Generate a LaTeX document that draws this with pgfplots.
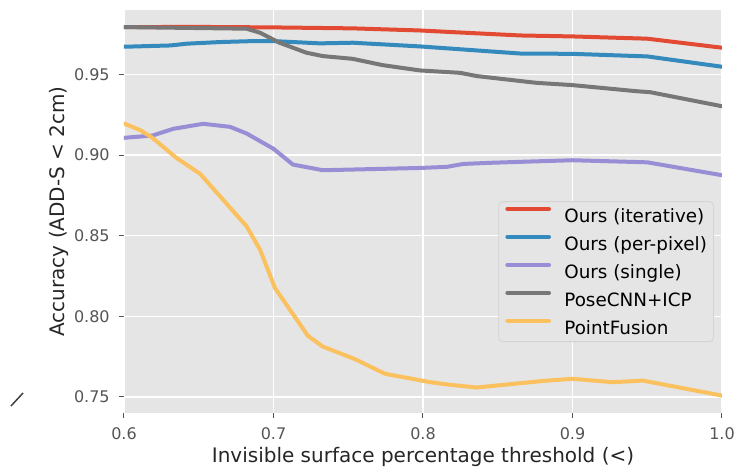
\documentclass[border=0pt]{standalone}
\usepackage{fontspec}
\setmainfont{DejaVu Sans}
\usepackage{pgfplots}
\pgfplotsset{compat=1.18}
\definecolor{ggbg}{HTML}{E5E5E5}
\definecolor{ggred}{HTML}{E24A33}
\definecolor{ggblue}{HTML}{348ABD}
\definecolor{ggpurple}{HTML}{988ED5}
\definecolor{gggray}{HTML}{777777}
\definecolor{ggyellow}{HTML}{FBC15E}
\definecolor{ticktext}{HTML}{555555}
\definecolor{labeltext}{HTML}{262626}
\definecolor{legedge}{HTML}{D4D4D4}
\begin{document}
\begin{tikzpicture}
\begin{axis}[
  at={(0pt,0pt)}, anchor=south west,
  scale only axis, width=358.8pt, height=241.8pt,
  xmin=0.6, xmax=1.0, ymin=0.740, ymax=0.990,
  axis background/.style={fill=ggbg},
  axis line style={draw=none},
  grid=major,
  major grid style={white, line width=0.9pt},
  xtick={0.6,0.7,0.8,0.9,1.0},
  xticklabels={0.6,0.7,0.8,0.9,1.0},
  ytick={0.75,0.80,0.85,0.90,0.95},
  yticklabels={0.75,0.80,0.85,0.90,0.95},
  xtick pos=bottom, ytick pos=left,
  tick align=outside,
  major tick length=3pt,
  tick style={color=ticktext, line width=0.6pt},
  ticklabel style={font=\fontsize{9.6}{11}\selectfont, text=ticktext, inner sep=0pt},
  xticklabel shift=5.4pt,
  yticklabel shift=5.4pt,
  xlabel={Invisible surface percentage threshold (<)},
  ylabel={Accuracy (ADD-S < 2cm)},
  label style={font=\fontsize{12}{14}\selectfont, text=labeltext, inner sep=0pt},
  xlabel style={at={(axis description cs:0.5,-0.1228)}, anchor=base},
  ylabel style={at={(axis description cs:-0.09866,0.5)}, anchor=base},
  every axis plot/.append style={line width=2.4pt, line join=round, line cap=round},
  legend image code/.code={\draw[#1] (0pt,4pt) -- (25pt,4pt); \path (33pt,4pt);},
  legend cell align=left,
  legend style={at={(axis description cs:0.9866,0.176)}, anchor=south east,
    fill=ggbg, draw=legedge, line width=0.5pt, rounded corners=2.5pt,
    font=\fontsize{11}{13}\selectfont, inner xsep=4pt, inner ysep=0pt, row sep=0pt,
    nodes={inner sep=0pt, text height=12.4pt, text depth=4.4pt}},
]
\addplot[color=ggred] coordinates {
(0.600,0.9794) (0.650,0.9795) (0.700,0.9792) (0.753,0.9786) (0.798,0.9773)
(0.830,0.9758) (0.865,0.9742) (0.900,0.9736) (0.950,0.9722) (1.000,0.9666)};
\addlegendentry{Ours (iterative)}
\addplot[color=ggblue] coordinates {
(0.600,0.9672) (0.631,0.9680) (0.642,0.9691) (0.664,0.9701) (0.686,0.9707)
(0.700,0.9707) (0.731,0.9693) (0.753,0.9697) (0.798,0.9674) (0.865,0.9630)
(0.900,0.9628) (0.950,0.9612) (1.000,0.9548)};
\addlegendentry{Ours (per-pixel)}
\addplot[color=ggpurple] coordinates {
(0.600,0.9107) (0.619,0.9121) (0.633,0.9163) (0.653,0.9194) (0.671,0.9175)
(0.682,0.9134) (0.700,0.9039) (0.713,0.8941) (0.733,0.8906) (0.798,0.8920)
(0.816,0.8927) (0.827,0.8945) (0.845,0.8952) (0.865,0.8958) (0.900,0.8968)
(0.950,0.8955) (1.000,0.8875)};
\addlegendentry{Ours (single)}
\addplot[color=gggray] coordinates {
(0.600,0.9794) (0.682,0.9784) (0.691,0.9759) (0.704,0.9697) (0.722,0.9635)
(0.733,0.9614) (0.753,0.9597) (0.773,0.9558) (0.798,0.9525) (0.825,0.9510)
(0.836,0.9490) (0.876,0.9448) (0.900,0.9434) (0.943,0.9396) (0.952,0.9390)
(1.000,0.9303)};
\addlegendentry{PoseCNN+ICP}
\addplot[color=ggyellow] coordinates {
(0.600,0.9196) (0.611,0.9154) (0.619,0.9107) (0.635,0.8983) (0.651,0.8883)
(0.682,0.8558) (0.691,0.8413) (0.701,0.8175) (0.723,0.7879) (0.733,0.7812)
(0.7545,0.7734) (0.7746,0.7643) (0.787,0.7622) (0.805,0.7591) (0.818,0.7575)
(0.836,0.7558) (0.865,0.7585) (0.883,0.7601) (0.900,0.7612) (0.927,0.7591)
(0.947,0.7601) (1.000,0.7508)};
\addlegendentry{PointFusion}
\end{axis}
\draw[line width=0.9pt, color=black!75] (-67.8pt,4.2pt) -- (-60.6pt,12pt);
\pgfresetboundingbox
\path[use as bounding box] (-74.4pt,-32.4pt) rectangle (367.2pt,247.8pt);
\end{tikzpicture}
\end{document}
